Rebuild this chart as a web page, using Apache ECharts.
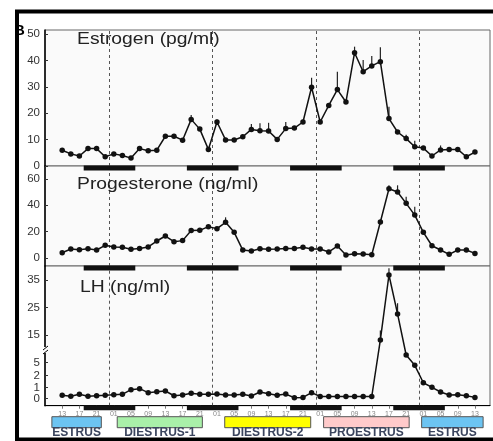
<!DOCTYPE html>
<html><head><meta charset="utf-8">
<script src="https://cdn.jsdelivr.net/npm/echarts@6/dist/echarts.min.js"></script>
<style>html,body{margin:0;padding:0;background:#fff}#c{width:493px;height:441px}</style>
</head><body><div id="c"></div>
<script>
// ---- data ----
const sampleHours = [-11,-9,-7,-5,-3,-1,1,3,5,7,9,11,13,15,17,19,21,23,25,27,29,31,33,35,37,39,41,43,45,47,49,51,53,55,57,59,61,63,65,67,69,71,73,75,77,79,81,83,85];
const estrogen = [6.0,4.6,3.8,6.6,6.6,3.5,4.6,4.0,3.0,6.6,5.8,6.0,
  11.3,11.3,9.8,17.7,14.0,6.3,16.7,9.9,9.9,11.1,13.9,13.4,
  13.3,10.1,14.2,14.4,16.7,29.9,16.7,23.0,29.0,24.3,43.0,35.8,
  38.0,39.6,18.0,12.9,10.4,7.3,6.8,3.8,6.1,6.3,6.3,3.5,5.3];
const estrogenErr = [0,0,0,0,0,0,0,0,0,0,0,0,
  0,0,0,1.7,0,0,1.0,0,0,0,2.0,2.8,
  3.1,0,2.5,0,0,3.6,0,0,6.8,0,2.3,4.4,
  3.8,5.5,4.5,0,1.5,2.3,0,0,1.7,0,0,0,0];
const progesterone = [4.0,6.8,6.3,7.1,6.1,9.6,8.4,8.1,6.6,7.3,8.4,12.9,
  16.7,12.4,13.2,20.8,21.0,23.8,22.3,27.1,19.5,6.0,5.3,7.1,
  6.6,6.8,7.3,7.3,8.1,6.8,6.8,4.6,9.1,2.3,3.3,3.0,
  2.5,27.3,52.6,50.1,41.5,32.6,19.5,9.3,6.1,2.8,6.1,6.1,3.5];
const progesteroneErr = [0,0,0,0,0,0,0,0,0,0,0,0,
  0,0,0,0,0,0,0,3.8,0,0,0,0,
  0,0,0,0,0,0,0,0,0,0,0,0,
  0,0,2.6,5.1,5.0,6.4,0,0,0,0,0,0,0];
const lh = [0.31,0.22,0.40,0.22,0.27,0.31,0.36,0.40,0.82,0.91,0.55,0.64,
  0.70,0.27,0.33,0.49,0.40,0.40,0.42,0.33,0.33,0.40,0.25,0.61,
  0.45,0.31,0.42,0.09,0.12,0.55,0.20,0.20,0.20,0.20,0.20,0.20,
  0.20,13.2,36.9,22.7,7.7,4.33,1.4,1.03,0.61,0.33,0.36,0.27,0.12];
const lhErr = [0,0,0,0,0,0,0,0,0,0,0,0,
  0,0,0,0,0,0,0,0,0,0,0,0,
  0,0,0,0,0,0,0,0,0,0,0,0,
  0,3.4,2.5,3.9,0,0.5,0,0,0,0,0,0,0];

const estrogenTicks = [0,10,20,30,40,50];
const progesteroneTicks = [0,20,40,60];
const lhTicks = [0,1,2,5,15,25,35];
const xTickValues = [-11,-7,-3,1,5,9,13,17,21,25,29,33,37,41,45,49,53,57,61,65,69,73,77,81,85];
const xTickLabels = ['13','17','21','01','05','09','13','17','21','01','05','09','13','17','21','01','05','09','13','17','21','01','05','09','13'];
const dayBoundaries = [0,24,48,72];
const darkStart = [-6,18,42,66];
const darkEnd = [6,30,54,78];
const phaseNames = ['ESTRUS','DIESTRUS-1','DIESTRUS-2','PROESTRUS','ESTRUS'];
const phaseStart = [-13.4,1.8,26.8,49.8,72.6];
const phaseEnd = [-1.9,21.6,46.8,69.7,86.9];
const phaseColors = ['#6cc4f2','#a9f0a9','#ffff00','#ffcaca','#6cc4f2'];
const titles = ['Estrogen (pg/ml)','Progesterone (ng/ml)','LH (ng/ml)'];

// broken LH scale: expanded below 5, linear above
function lhT(v){
  if (v <= 1) return 11*v;
  if (v <= 2) return 11 + 12.3*(v-1);
  if (v <= 5) return 23.3 + 13*(v-2)/3;
  return 36.3 + 2.74*(v-5);
}
const ident = v => v;

const FONT = '"Liberation Sans", Arial, sans-serif';
const chart = echarts.init(document.getElementById('c'), null, {renderer:'canvas'});

function lineSeries(idx, vals, tf){
  return {
    type:'line', xAxisIndex:idx, yAxisIndex:idx, z:5,
    data: sampleHours.map((h,i)=>[h, tf(vals[i])]),
    symbol:'circle', symbolSize:5.5, showSymbol:true,
    itemStyle:{color:'#111'}, lineStyle:{color:'#111', width:1.5},
    markLine:{silent:true, symbol:['none','none'], label:{show:false},
      lineStyle:{type:[3,3], color:'#555', width:1},
      data: dayBoundaries.map(v=>({xAxis:v}))}
  };
}
function errSeries(idx, vals, errs, tf){
  return {
    type:'custom', xAxisIndex:idx, yAxisIndex:idx, z:4, clip:false,
    data: sampleHours.map((h,i)=>[h, vals[i], errs[i]]),
    renderItem(params, api){
      const x = api.value(0), m = api.value(1), e = api.value(2);
      if (!e) return null;
      const p0 = api.coord([x, tf(m)]), p1 = api.coord([x, tf(m+e)]);
      return {type:'line', shape:{x1:p0[0],y1:p0[1],x2:p1[0],y2:p1[1]},
        style:{stroke:'#222', lineWidth:1.2}};
    }
  };
}
function darkSeries(idx){
  return {
    type:'custom', xAxisIndex:idx, yAxisIndex:idx, z:6, clip:false,
    data: darkStart.map((s,i)=>[s, darkEnd[i]]),
    renderItem(params, api){
      const cs = params.coordSys;
      const a = api.coord([api.value(0), 0]), b = api.coord([api.value(1), 0]);
      const bottom = cs.y + cs.height;
      return {type:'rect', shape:{x:a[0], y:bottom-0.5, width:b[0]-a[0], height:5},
        style:{fill:'#111'}};
    }
  };
}
const phaseSeries = {
  type:'custom', xAxisIndex:2, yAxisIndex:2, z:20, clip:false,
  data: phaseStart.map((s,i)=>[s, phaseEnd[i]]),
  renderItem(params, api){
    const cs = params.coordSys;
    const a = api.coord([api.value(0), 0]), b = api.coord([api.value(1), 0]);
    const bottom = cs.y + cs.height;
    const i = params.dataIndex;
    return {type:'group', children:[
      {type:'rect', shape:{x:a[0], y:bottom+11, width:b[0]-a[0], height:11},
        style:{fill:phaseColors[i], stroke:'#555', lineWidth:1}},
      {type:'text', x:(a[0]+b[0])/2, y:bottom+27,
        style:{text:phaseNames[i], fill:'#3b455e', font:'bold 12px '+FONT, align:'center', verticalAlign:'middle'}}
    ]};
  }
};

// labelTicks: the tick values whose labels the axis itself draws
function yAx(idx, min, max, ticks, tf, labelTicks){
  const cv = ticks.map(tf);
  const lv = (labelTicks || ticks).map(tf);
  return {type:'value', gridIndex:idx, min, max, splitLine:{show:false},
    axisLine:{show:true, onZero:false, lineStyle:{color:'#000', width:1.5}},
    axisTick:{show:true, inside:true, length:3, customValues:cv, lineStyle:{color:'#333'}},
    axisLabel:{customValues:lv, fontSize:11.5, color:'#333', margin:5, fontFamily:FONT,
      showMinLabel:true, showMaxLabel:true, hideOverlap:false,
      formatter:(v)=>{ let k=0, d=1e9; cv.forEach((c,j)=>{ if(Math.abs(c-v)<d){d=Math.abs(c-v);k=j;} }); return String(ticks[k]); }}
  };
}
function xAx(idx, showLabels){
  const ax = {type:'value', gridIndex:idx, min:-15, max:88.5, splitLine:{show:false}};
  if (!showLabels){
    ax.axisLine={show:false, onZero:false}; ax.axisTick={show:false}; ax.axisLabel={show:false};
  } else {
    ax.axisLine={show:true, onZero:false, lineStyle:{color:'#000', width:1.2}};
    ax.axisTick={show:true, length:3, customValues:xTickValues, lineStyle:{color:'#777'}};
    ax.axisLabel={customValues:xTickValues, fontSize:7, color:'#888', margin:5, fontFamily:FONT,
      formatter:(v)=>{ const k = xTickValues.indexOf(v); return k>=0 ? xTickLabels[k] : ''; }};
  }
  return ax;
}

// LH labels too close together for the axis' own overlap handling are added as text
const lhAxisLabelTicks = lhTicks.filter(t => t !== 1);
const lhExtraLabelTicks = lhTicks.filter(t => t === 1);

const gridBase = {left:45, width:445, show:true, borderColor:'#666', borderWidth:1, backgroundColor:'#fafafa'};
const option = {
  animation:false,
  backgroundColor:'#ffffff',
  grid:[
    Object.assign({top:30, height:136}, gridBase),
    Object.assign({top:166, height:100}, gridBase),
    Object.assign({top:266, height:139.7}, gridBase)
  ],
  xAxis:[xAx(0,false), xAx(1,false), xAx(2,true)],
  yAxis:[
    yAx(0, 0, 51.63, estrogenTicks, ident),
    yAx(1, -6.07, 69.86, progesteroneTicks, ident),
    yAx(2, -7, 132.7, lhTicks, lhT, lhAxisLabelTicks)
  ],
  series:[
    lineSeries(0, estrogen, ident), errSeries(0, estrogen, estrogenErr, ident), darkSeries(0),
    lineSeries(1, progesterone, ident), errSeries(1, progesterone, progesteroneErr, ident), darkSeries(1),
    lineSeries(2, lh, lhT), errSeries(2, lh, lhErr, lhT), darkSeries(2),
    phaseSeries
  ],
  graphic:[
    {type:'text', x:77, y:39.5, scaleX:1.17, z:30, style:{text:titles[0], font:'16.5px '+FONT, fill:'#222', verticalAlign:'middle'}},
    {type:'text', x:77, y:184, scaleX:1.17, z:30, style:{text:titles[1], font:'16.5px '+FONT, fill:'#222', verticalAlign:'middle'}},
    {type:'text', x:80, y:287, scaleX:1.17, z:30, style:{text:titles[2], font:'16.5px '+FONT, fill:'#222', verticalAlign:'middle'}},
    {type:'rect', z:40, shape:{x:44, y:347, width:3, height:6}, style:{fill:'#fafafa'}},
    {type:'polyline', z:41, shape:{points:[[43,350],[48,346]]}, style:{stroke:'#000', lineWidth:1}},
    {type:'polyline', z:41, shape:{points:[[43,354],[48,350]]}, style:{stroke:'#000', lineWidth:1}},
    {type:'text', x:14, y:31, z:50, style:{text:'B', font:'bold 15px '+FONT, fill:'#000', verticalAlign:'middle'}},
    {type:'rect', z:100, shape:{x:17, y:11.5, width:520, height:428}, style:{fill:'none', stroke:'#000', lineWidth:4}}
  ]
};
chart.setOption(option);

const extra = lhExtraLabelTicks.map((t, i) => {
  const p = chart.convertToPixel({xAxisIndex:2, yAxisIndex:2}, [-15, lhT(t)]);
  return {type:'text', id:'lhextra'+i, x:p[0]-5, y:p[1], z:200,
    style:{text:String(t), fill:'#333', font:'11.5px '+FONT, align:'right', verticalAlign:'middle'}};
});
chart.setOption({graphic: extra});
</script>
</body></html>
